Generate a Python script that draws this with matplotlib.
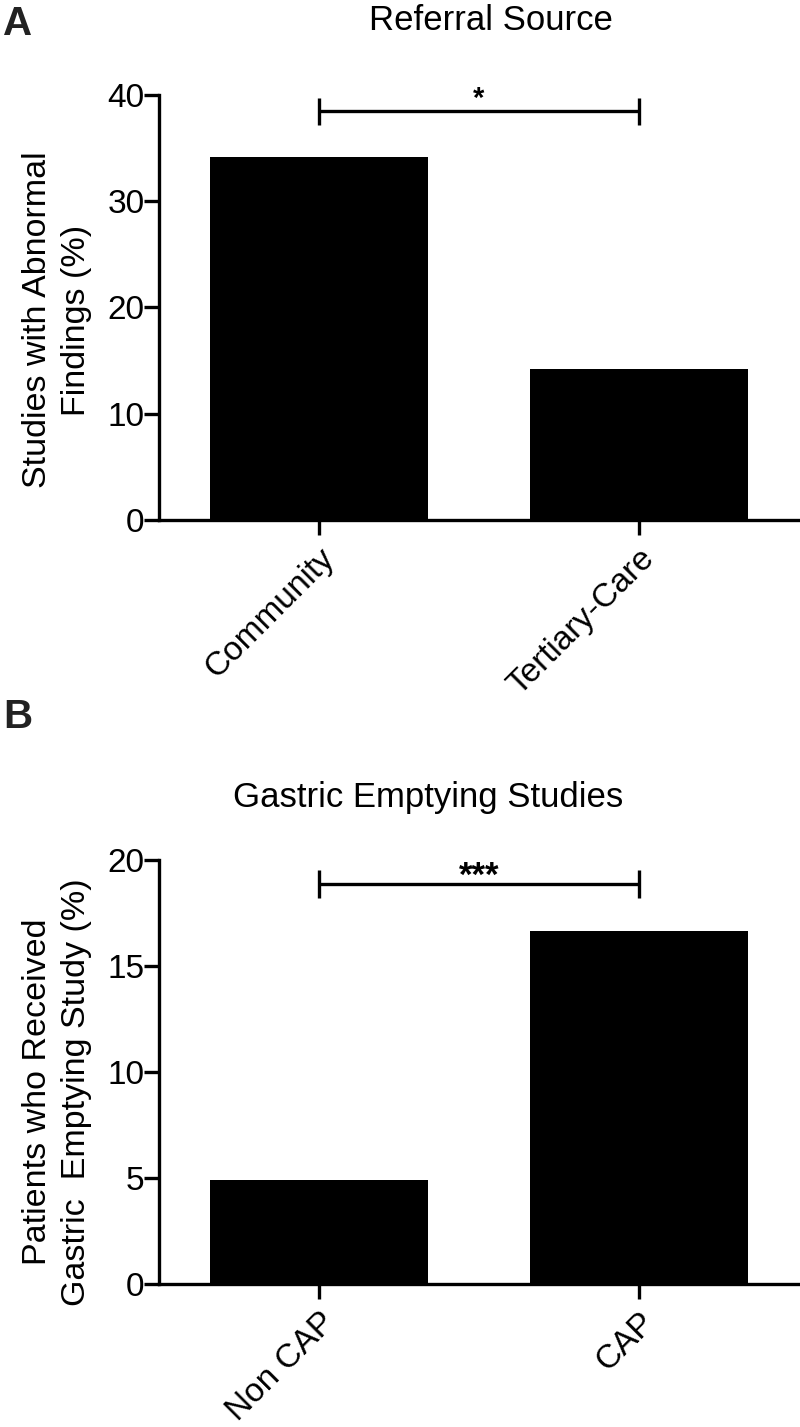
import matplotlib
matplotlib.use("Agg")
import matplotlib.pyplot as plt
import matplotlib.transforms as mtransforms

plt.rcParams['font.family'] = ['Liberation Sans', 'DejaVu Sans']

# Panel A data
cats_a = ["Community", "Tertiary-Care"]
vals_a = [34.2, 14.2]
title_a = "Referral Source"
ylabel_a = "Studies with Abnormal\nFindings (%)"
yticks_a = [0, 10, 20, 30, 40]
sig_a = "*"
sig_a_y = 38.5
sig_a_cap = (37.2, 39.75)

# Panel B data
cats_b = ["Non CAP", "CAP"]
vals_b = [4.9, 16.65]
title_b = "Gastric Emptying Studies"
ylabel_b = "Patients who Received\nGastric  Emptying Study (%)"
yticks_b = [0, 5, 10, 15, 20]
sig_b = "***"
sig_b_y = 18.87
sig_b_cap = (18.2, 19.55)

W, H = 800, 1427
fig = plt.figure(figsize=(W / 100, H / 100), dpi=100)

LW = 2.4
TICK_FS = 24


def px(x0, y_top, x1, y_bot):
    return [x0 / W, 1 - y_bot / H, (x1 - x0) / W, (y_bot - y_top) / H]


def draw(ax, cats, vals, yticks, sig, sig_y, sig_cap, star_base, star_fs):
    x = list(range(len(cats)))
    ax.bar(x, vals, width=0.68, color="black", edgecolor="black", linewidth=0)
    ax.set_xlim(-0.5, 1.5)
    ax.set_ylim(yticks[0], yticks[-1])
    ax.set_yticks(yticks)
    ax.set_xticks(x)
    ax.set_xticklabels(cats, rotation=45, ha="right", rotation_mode="anchor",
                       fontsize=TICK_FS)
    off = mtransforms.ScaledTranslation(-6 / 100, 0, fig.dpi_scale_trans)
    for lab in ax.get_xticklabels():
        lab.set_transform(lab.get_transform() + off)
    for s in ["top", "right"]:
        ax.spines[s].set_visible(False)
    for s in ["left", "bottom"]:
        ax.spines[s].set_linewidth(LW)
        ax.spines[s].set_capstyle("projecting")
    ax.tick_params(axis="both", length=10.5, width=LW, labelsize=TICK_FS,
                   direction="out")
    ax.tick_params(axis="y", pad=0)
    ax.tick_params(axis="x", pad=6)
    # significance bracket
    ax.plot([x[0], x[1]], [sig_y, sig_y], color="black", lw=LW, clip_on=False,
            solid_capstyle="butt")
    for xi in x:
        ax.plot([xi, xi], list(sig_cap), color="black", lw=LW, clip_on=False,
                solid_capstyle="butt")
    ax.text(0.5 * (x[0] + x[1]), star_base, sig, ha="center",
            va="baseline", fontsize=star_fs, fontweight="bold", clip_on=False)


axA = fig.add_axes(px(159, 95, 799, 520))
draw(axA, cats_a, vals_a, yticks_a, sig_a, sig_a_y, sig_a_cap, 38.9, 21)
axB = fig.add_axes(px(159, 860, 799, 1284))
draw(axB, cats_b, vals_b, yticks_b, sig_b, sig_b_y, sig_b_cap, 18.78, 25)

fig.text(491 / W, 1 - 20 / H, title_a, ha="center", va="center", fontsize=25)
fig.text(428 / W, 1 - 797 / H, title_b, ha="center", va="center", fontsize=25)

fig.text(57 / W, 1 - 320 / H, ylabel_a, rotation=90, ha="center", va="center",
         multialignment="center", fontsize=24.5, linespacing=1.32)
fig.text(57 / W, 1 - 1092 / H, ylabel_b, rotation=90, ha="center", va="center",
         multialignment="center", fontsize=24.5, linespacing=1.32)

fig.text(3 / W, 1 - 5 / H, "A", ha="left", va="top", fontsize=29,
         fontweight="bold", color="#222222")
fig.text(3 / W, 1 - 698 / H, "B", ha="left", va="top", fontsize=29,
         fontweight="bold", color="#222222")

fig.savefig("out.png", dpi=100)
